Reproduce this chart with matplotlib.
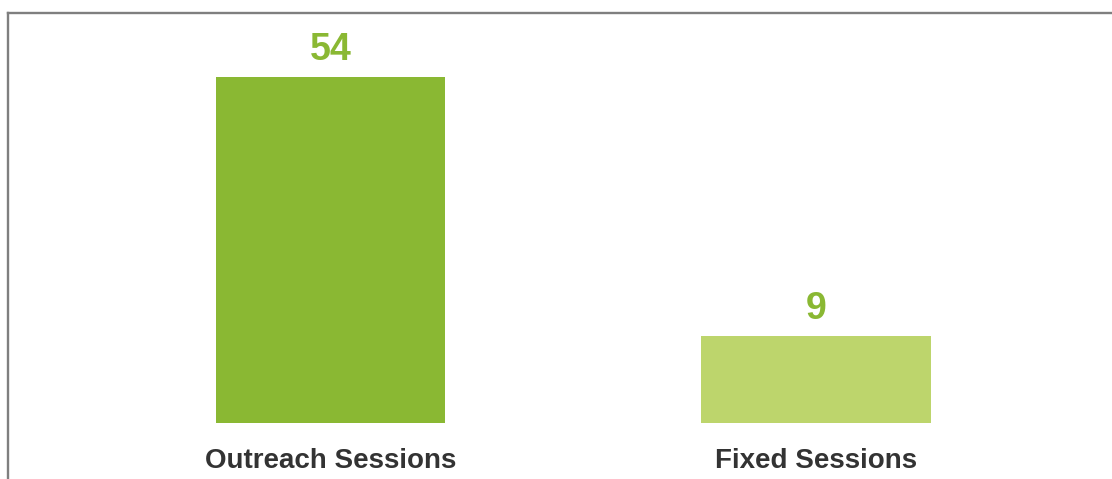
import matplotlib
matplotlib.use("Agg")
import matplotlib.pyplot as plt
import matplotlib.transforms as mtransforms
from matplotlib.lines import Line2D

categories = ["Outreach Sessions", "Fixed Sessions"]
values = [54, 9]
bar_colors = ["#8AB833", "#BDD56C"]
label_color = "#8AB833"

plt.rcParams['font.family'] = ['Liberation Sans', 'DejaVu Sans']

W, H = 1112, 479
fig = plt.figure(figsize=(W / 100, H / 100), dpi=100)
ax = fig.add_axes([0, 0, 1, 1])

base = -6
x = list(range(len(categories)))
heights = [v - base for v in values]
ax.bar(x, heights, bottom=base, width=0.472, color=bar_colors, linewidth=0)

ax.set_xlim(-0.6807, 1.6097)
ax.set_ylim(-15.71, 67.35)
ax.axis("off")

for xi, v in zip(x, values):
    ax.annotate(str(v), (xi, v), xytext=(0, 12.5), textcoords="offset points",
                ha="center", va="baseline", fontsize=27, fontweight="bold",
                color=label_color)

trans = mtransforms.blended_transform_factory(ax.transData, ax.transAxes)
for xi, c in zip(x, categories):
    ax.text(xi, 1 - 461 / H, c, transform=trans, ha="center", va="center",
            fontsize=20, fontweight="bold", color="#333333")

# frame lines (top and left)
fig.add_artist(Line2D([8 / W, 1], [1 - 12.5 / H, 1 - 12.5 / H],
                      transform=fig.transFigure, color="#7F7F7F", linewidth=1.7))
fig.add_artist(Line2D([8 / W, 8 / W], [0, 1 - 12.5 / H],
                      transform=fig.transFigure, color="#7F7F7F", linewidth=1.7))

fig.savefig("out.png", dpi=100)
